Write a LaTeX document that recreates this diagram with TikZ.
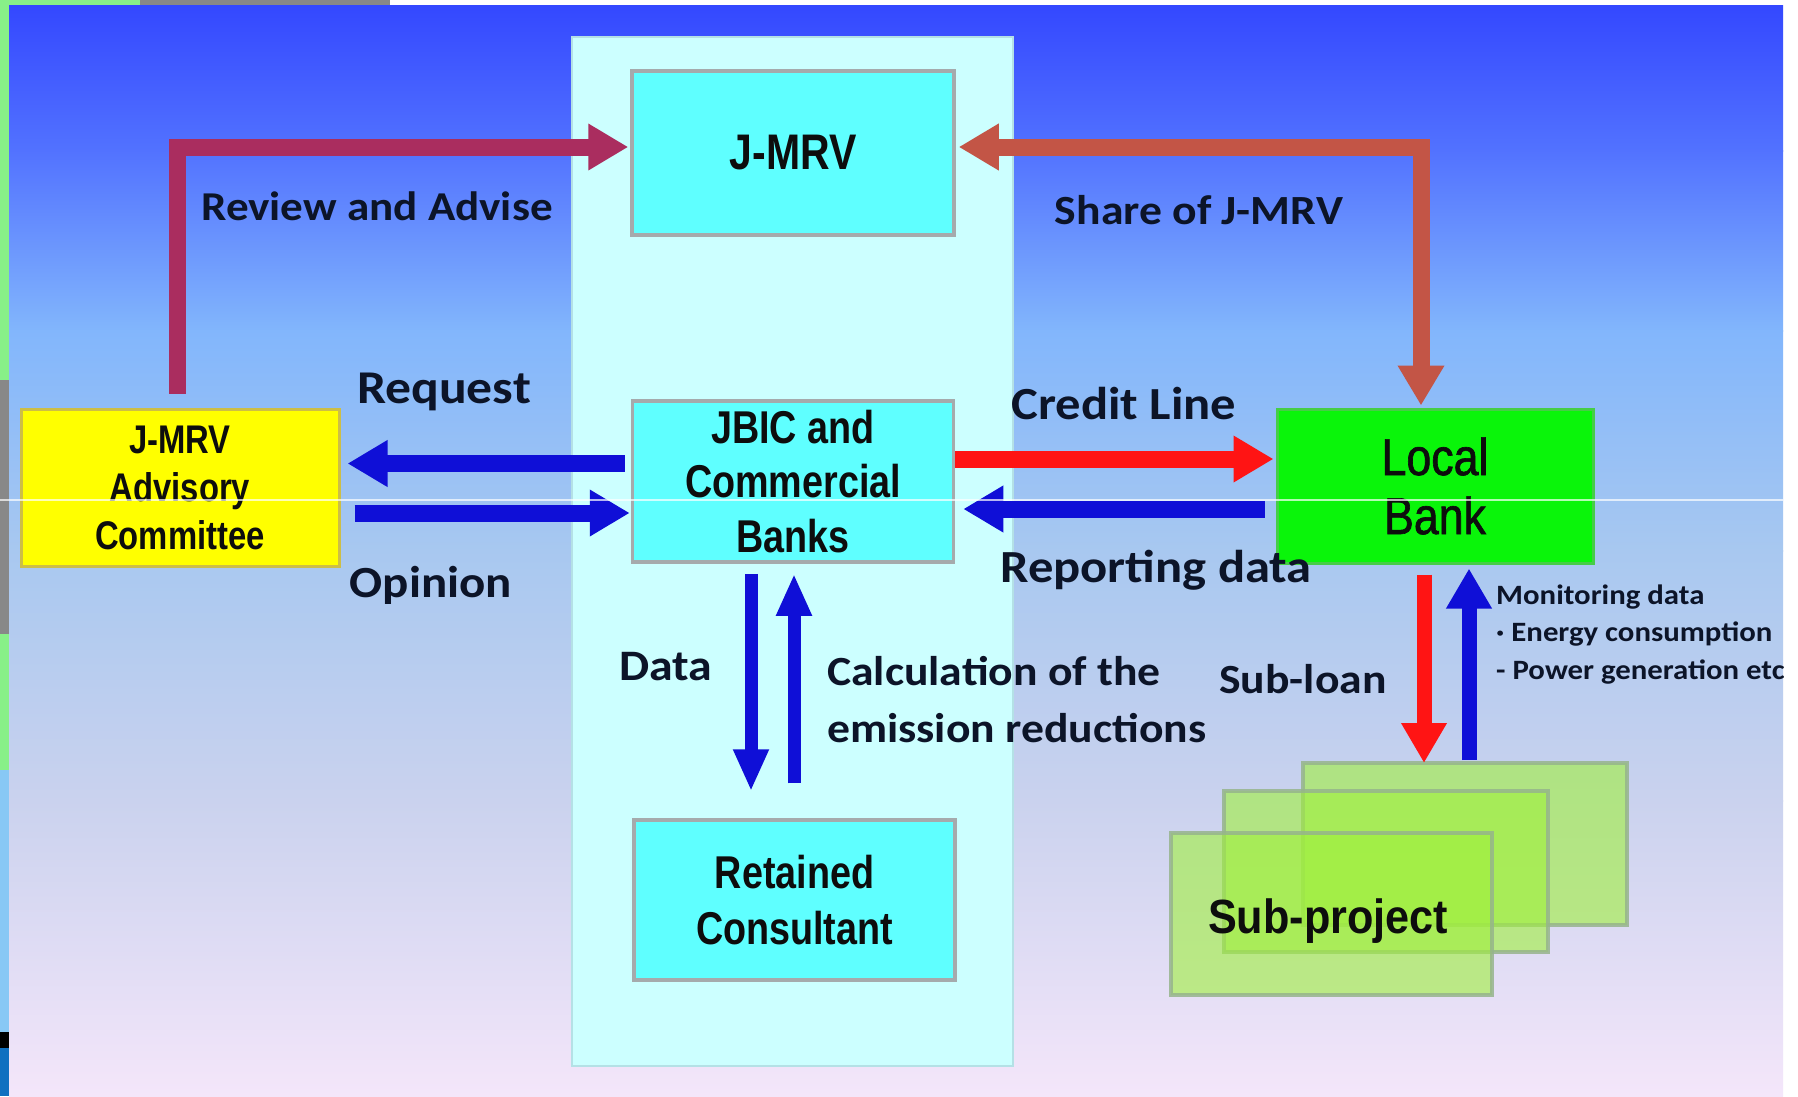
\documentclass[tikz,border=0pt]{standalone}
\usepackage{fontspec}
\setmainfont{Carlito}
\newfontfamily\lab[FakeStretch=1.1]{Carlito}
\newfontfamily\arn[FakeStretch=0.82]{Liberation Sans}
\newfontfamily\arl[FakeStretch=0.86,FakeBold=1.2]{Liberation Sans}
\newfontfamily\arm[FakeStretch=0.9]{Liberation Sans}
\usetikzlibrary{arrows.meta}
\definecolor{c0}{RGB}{52,72,255}
\definecolor{c1}{RGB}{82,114,255}
\definecolor{c2}{RGB}{130,182,252}
\definecolor{c3}{RGB}{168,200,240}
\definecolor{c4}{RGB}{202,210,238}
\definecolor{c5}{RGB}{244,230,250}
\definecolor{panelcol}{RGB}{204,255,255}
\definecolor{cyanbox}{RGB}{95,255,255}
\definecolor{boxline}{RGB}{165,170,172}
\definecolor{yelbox}{RGB}{255,255,0}
\definecolor{grnbox}{RGB}{10,245,10}
\definecolor{subfill}{RGB}{160,240,60}
\definecolor{subline}{RGB}{150,180,140}
\definecolor{revcol}{RGB}{170,45,95}
\definecolor{sharecol}{RGB}{195,85,70}
\definecolor{bluecol}{RGB}{15,15,215}
\definecolor{redcol}{RGB}{255,20,20}
\definecolor{labcol}{RGB}{12,20,40}
\definecolor{stripgreen}{RGB}{136,240,136}
\definecolor{stripgray}{RGB}{136,136,136}
\definecolor{striplblue}{RGB}{136,200,245}
\definecolor{stripblue}{RGB}{16,112,192}
\tikzset{
  px/.style={x=1pt,y=-1pt},
  boxnode/.style={rectangle,inner sep=0pt,align=center,text=black!95},
  cyanstyle/.style={boxnode,fill=cyanbox,draw=boxline,line width=3.5pt},
  lbl/.style={inner sep=0pt,text=labcol},
  fatarrow/.style={line width=17pt,-{Triangle[length=40pt,width=44pt]}},
  thinarrow/.style={line width=13pt,-{Triangle[length=42pt,width=33pt]}},
  vertarrow/.style={line width=15pt,-{Triangle[length=40pt,width=43pt]}},
  subbox/.style={rectangle,inner sep=0pt,fill=subfill,fill opacity=0.6,draw=subline,draw opacity=0.85,line width=4pt},
}
\begin{document}
\begin{tikzpicture}[px]
\useasboundingbox (0,0) rectangle (1798,1096);
% page surround
\fill[white] (0,0) rectangle (1798,1096);
\fill[stripgreen] (0,0) rectangle (140,5);
\fill[stripgray] (140,0) rectangle (390,5);
\fill[stripgreen] (0,0) rectangle (9,380);
\fill[stripgray] (0,380) rectangle (9,634);
\fill[stripgreen] (0,634) rectangle (9,770);
\fill[striplblue] (0,770) rectangle (9,1032);
\fill[black] (0,1032) rectangle (9,1048);
\fill[stripblue] (0,1048) rectangle (9,1096);
\begin{scope}
\clip (9,5) rectangle (1783,1096);
% background gradient
\shade[top color=c0,bottom color=c1] (9,5) rectangle (1783,151);
\shade[top color=c1,bottom color=c2] (9,150) rectangle (1783,331);
\shade[top color=c2,bottom color=c3] (9,330) rectangle (1783,551);
\shade[top color=c3,bottom color=c4] (9,550) rectangle (1783,801);
\shade[top color=c4,bottom color=c5] (9,800) rectangle (1783,1096);
% central panel
\node[rectangle,inner sep=0pt,fill=panelcol,draw={rgb,255:red,180;green,225;blue,230},line width=1.5pt,
  minimum width=441pt,minimum height=1029pt] (panel) at (792.5,551.5) {};
% boxes
\node[cyanstyle,minimum width=322pt,minimum height=164pt,font={\arn\bfseries\fontsize{50}{60}\selectfont}] (jmrv) at (793,153) {J-MRV};
\node[cyanstyle,minimum width=321pt,minimum height=161pt,font={\arn\bfseries\fontsize{46}{54.5}\selectfont}] (jbic) at (793,481.5) {JBIC and\\Commercial\\Banks};
\node[cyanstyle,minimum width=321pt,minimum height=160pt,font={\arn\bfseries\fontsize{46}{56}\selectfont}] (ret) at (794.5,900) {Retained\\Consultant};
\node[boxnode,fill=yelbox,draw={rgb,255:red,205;green,190;blue,70},line width=3pt,minimum width=318pt,minimum height=157pt,
  font={\arn\bfseries\fontsize{40}{48}\selectfont}] (comm) at (180,487.5) {J-MRV\\Advisory\\Committee};
\node[boxnode,fill=grnbox,draw={rgb,255:red,70;green,205;blue,70},line width=3pt,minimum width=316pt,minimum height=154pt,
  font={\arl\fontsize{52}{59}\selectfont}] (local) at (1435,486) {Local\\Bank};
% sub-project stack
\node[subbox,minimum width=324pt,minimum height=162pt] (sp3) at (1465,844) {};
\node[subbox,minimum width=324pt,minimum height=161pt] (sp2) at (1386,871.5) {};
\node[subbox,minimum width=321pt,minimum height=162pt] (sp1) at (1331.5,914) {};
\node[inner sep=0pt,text=black!95,font={\arm\bfseries\fontsize{48}{56}\selectfont}] (sptext) at (1328,921) {Sub-project};
% connectors
\draw[fatarrow,revcol,line join=miter] ([xshift=-3pt,yshift=14pt]comm.north) |- ([xshift=-2pt,yshift=6pt]jmrv.west);
\draw[fatarrow,sharecol,line join=miter,{Triangle[length=40pt,width=44pt]}-{Triangle[length=40pt,width=44pt]}]
  ([xshift=3pt,yshift=6pt]jmrv.east) -| ([xshift=-14pt,yshift=2pt]local.north);
\draw[fatarrow,bluecol] ([xshift=-6pt,yshift=18pt]jbic.west) -- ([xshift=7pt,yshift=24pt]comm.east);
\draw[fatarrow,bluecol] ([xshift=14pt,yshift=-25.5pt]comm.east) -- ([xshift=-1pt,yshift=-31.5pt]jbic.west);
\draw[fatarrow,redcol] ([yshift=22.5pt]jbic.east) -- ([xshift=-2pt,yshift=27pt]local.west);
\draw[fatarrow,bluecol] ([xshift=-11pt,yshift=-23pt]local.west) -- ([xshift=8pt,yshift=-27.5pt]jbic.east);
\draw[thinarrow,bluecol] ([xshift=-42pt,yshift=-10pt]jbic.south) -- ([xshift=-43.5pt,yshift=27pt]ret.north);
\draw[thinarrow,bluecol] ([xshift=-0.5pt,yshift=35pt]ret.north) -- ([xshift=1pt,yshift=-10pt]jbic.south);
\draw[vertarrow,redcol] ([xshift=-11pt,yshift=-10pt]local.south) -- ([xshift=-41pt,yshift=-2pt]sp3.north);
\draw[vertarrow,bluecol] ([xshift=4pt,yshift=1pt]sp3.north) -- ([xshift=34pt,yshift=-4pt]local.south);
% labels
\node[lbl,font={\lab\bfseries\fontsize{41}{49}\selectfont}] (lrev) at (377,206) {Review and Advise};
\node[lbl,font={\lab\bfseries\fontsize{41.5}{49}\selectfont}] (lshare) at (1199,210) {Share of J-MRV};
\node[lbl,font={\lab\bfseries\fontsize{47}{56}\selectfont}] (lreq) at (444,392) {Request};
\node[lbl,font={\lab\bfseries\fontsize{44.5}{53}\selectfont}] (lopi) at (431,585) {Opinion};
\node[lbl,font={\lab\bfseries\fontsize{46}{55}\selectfont}] (lcred) at (1124,404) {Credit Line};
\node[lbl,font={\lab\bfseries\fontsize{46}{55}\selectfont}] (lrep) at (1156,570) {Reporting data};
\node[lbl,font={\lab\bfseries\fontsize{43.5}{52}\selectfont}] (ldata) at (666,667) {Data};
\node[lbl,anchor=west,align=left,font={\lab\bfseries\fontsize{41.5}{57}\selectfont}] (lcalc) at (827,699.5) {Calculation of the\\emission reductions};
\node[lbl,font={\lab\bfseries\fontsize{41.5}{50}\selectfont}] (lsub) at (1303,679) {Sub-loan};
\node[lbl,anchor=west,align=left,font={\lab\bfseries\fontsize{28}{37.5}\selectfont}] (lmon) at (1496,634.5) {Monitoring data\\· Energy consumption\\- Power generation etc};
\end{scope}
% thin light scan line
\draw[white,opacity=0.7,line width=1.5pt] (0,500) -- (1783,500);
\end{tikzpicture}
\end{document}
